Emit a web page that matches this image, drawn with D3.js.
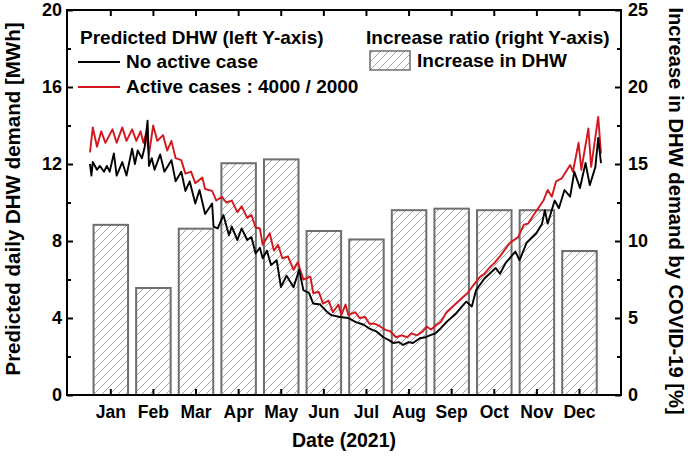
<!DOCTYPE html>
<html><head><meta charset="utf-8">
<script src="https://cdn.jsdelivr.net/npm/d3@7"></script>
<style>
html,body{margin:0;padding:0;background:#fff;}
svg text{font-family:"Liberation Sans",Arial,Helvetica,sans-serif;font-weight:bold;fill:#000;}
</style></head><body>
<svg id="chart" width="688" height="456"></svg>
<script>
// ---------- data ----------
const months = ["Jan","Feb","Mar","Apr","May","Jun","Jul","Aug","Sep","Oct","Nov","Dec"];
const increaseRatio = [11.05, 6.95, 10.8, 15.05, 15.3, 10.65, 10.1, 12.0, 12.1, 12.0, 12.0, 9.35];

const leftTicks = [0, 4, 8, 12, 16, 20];
const rightTicks = [0, 5, 10, 15, 20, 25];

// day of year (0..364) and predicted daily DHW [MWh]
const noActiveDay = [0,1,2,5,7,10,12,14,17,19,23,26,30,32,34,37,39,41,42,44,46,50,53,58,61,65,68,71,75,78,82,87,88,91,95,99,101,105,108,112,115,118,121,123,126,129,133,136,140,145,149,152,156,159,164,169,172,178,184,189,195,199,204,209,213,216,220,223,227,230,235,239,242,246,249,254,261,265,268,272,275,281,289,292,296,303,306,311,318,322,324,326,331,334,338,342,345,349,353,356,360,362,364];
const noActiveDHW = [12.0,11.4,12.1,11.7,11.9,11.6,11.9,11.6,12.55,11.4,12.1,11.4,12.8,12.0,12.7,12.3,12.9,14.25,11.9,12.3,11.7,12.5,11.6,12.2,11.1,11.6,10.6,11.1,9.95,10.65,9.4,9.95,8.75,8.65,9.35,8.3,8.75,8.05,8.65,8.05,8.2,7.35,7.65,7.1,7.5,6.75,7.0,5.6,6.2,5.6,6.5,5.45,5.3,4.75,4.7,4.3,4.15,4.05,4.0,3.8,3.65,3.45,3.3,3.0,2.85,2.7,2.75,2.6,2.75,2.7,2.95,3.0,3.1,3.2,3.4,3.8,4.25,4.6,4.85,4.6,5.45,6.05,6.6,6.3,6.85,7.45,7.0,7.9,8.4,8.9,9.6,8.9,10.1,9.7,10.65,10.3,11.6,10.75,12.05,10.9,11.85,13.35,12.05];

const activeDay = [0,2,5,8,11,16,19,23,26,30,33,36,38,40,42,45,48,52,55,58,61,65,68,72,75,80,82,87,90,94,97,101,105,108,112,115,118,121,123,128,131,134,137,141,145,148,152,157,159,163,166,170,173,177,179,182,184,189,192,196,199,203,207,210,214,218,222,226,229,233,237,240,243,247,250,254,260,266,269,272,278,281,285,288,292,299,305,309,312,316,323,326,329,332,336,342,344,348,350,355,357,362,364];
const activeDHW = [12.6,13.9,12.9,13.7,13.1,13.8,13.1,13.9,13.2,13.8,13.2,13.7,13.1,13.6,12.5,14.0,13.2,13.5,12.7,13.2,12.3,12.2,11.5,11.6,11.0,11.3,10.7,10.6,10.1,10.3,10.0,10.1,9.5,9.8,9.2,9.35,8.7,8.65,7.8,8.4,7.5,7.8,7.1,7.2,6.5,6.9,6.0,6.15,5.3,5.35,4.75,4.9,4.3,4.7,4.15,4.7,4.15,4.3,4.0,4.05,3.7,3.7,3.55,3.4,3.3,3.0,3.1,3.0,3.2,3.1,3.3,3.55,3.4,3.65,3.8,4.3,4.7,5.1,5.3,5.6,6.15,6.3,6.65,6.85,7.2,7.9,8.2,8.85,8.9,9.35,10.1,10.65,10.3,11.1,11.25,11.95,11.6,13.1,11.7,13.85,11.85,14.45,12.55];

// ---------- layout ----------
const svg = d3.select("#chart");
const L = 67, R = 621, T = 10, B = 395;

const xDay = d3.scaleLinear().domain([0, 364]).range([90, 601]);
const xBand = d3.scaleBand().domain(months).range([89.5, 600.8]).paddingInner(0.19).paddingOuter(0.095);
const yL = d3.scaleLinear().domain([0, 20]).range([B, T]);
const yR = d3.scaleLinear().domain([0, 25]).range([B, T]);

// hatch pattern
const defs = svg.append("defs");
const pat = defs.append("pattern").attr("id","hatch").attr("patternUnits","userSpaceOnUse")
  .attr("width",8).attr("height",8);
pat.append("rect").attr("width",8).attr("height",8).attr("fill","#fff");
pat.append("path").attr("d","M-2,2 L2,-2 M0,8 L8,0 M6,10 L10,6").attr("stroke","#9a9a9a").attr("stroke-width",0.9);

// bars
svg.append("g").selectAll("rect").data(increaseRatio).join("rect")
  .attr("x",(d,i)=>xBand(months[i]))
  .attr("y",d=>yR(d))
  .attr("width",xBand.bandwidth())
  .attr("height",d=>yR(0)-yR(d))
  .attr("fill","url(#hatch)")
  .attr("stroke","#6e6e6e").attr("stroke-width",2);

// lines
const lineGen = (days)=>d3.line().x((d,i)=>xDay(days[i])).y(d=>yL(d));
svg.append("path").datum(activeDHW).attr("d",lineGen(activeDay))
  .attr("fill","none").attr("stroke","#d3171e").attr("stroke-width",1.9).attr("stroke-linejoin","round");
svg.append("path").datum(noActiveDHW).attr("d",lineGen(noActiveDay))
  .attr("fill","none").attr("stroke","#000").attr("stroke-width",1.9).attr("stroke-linejoin","round");

// axes
function clean(g){ g.select(".domain").remove(); g.selectAll("line").attr("stroke","#000").attr("stroke-width",2); }

// left
svg.append("g").attr("transform",`translate(${L},0)`)
  .call(d3.axisLeft(yL).tickValues(leftTicks).tickSizeInner(-6).tickSizeOuter(0).tickPadding(5))
  .call(clean).call(g=>g.selectAll("text").style("font-size","18px"));
svg.append("g").attr("transform",`translate(${L},0)`)
  .call(d3.axisLeft(yL).tickValues(d3.range(2,20,4)).tickSizeInner(-4).tickSizeOuter(0).tickFormat(""))
  .call(clean);
// right
svg.append("g").attr("transform",`translate(${R},0)`)
  .call(d3.axisRight(yR).tickValues(rightTicks).tickSizeInner(-6).tickSizeOuter(0).tickPadding(7))
  .call(clean).call(g=>g.selectAll("text").style("font-size","18px"));
svg.append("g").attr("transform",`translate(${R},0)`)
  .call(d3.axisRight(yR).tickValues(d3.range(2.5,25,5)).tickSizeInner(-4).tickSizeOuter(0).tickFormat(""))
  .call(clean);
// bottom
svg.append("g").attr("transform",`translate(0,${B})`)
  .call(d3.axisBottom(xBand).tickSizeInner(-6).tickSizeOuter(0).tickPadding(11))
  .call(clean).call(g=>g.selectAll("text").style("font-size","17.5px"));
// top
svg.append("g").attr("transform",`translate(0,${T})`)
  .call(d3.axisTop(xBand).tickSizeInner(-6).tickSizeOuter(0).tickFormat(""))
  .call(clean);

// frame
svg.append("rect").attr("x",L).attr("y",T).attr("width",R-L).attr("height",B-T)
  .attr("fill","none").attr("stroke","#000").attr("stroke-width",2);

// axis titles
svg.append("text").attr("transform","translate(20,199) rotate(-90)").attr("text-anchor","middle")
  .style("font-size","20.5px").text("Predicted daily DHW demand [MWh]");
svg.append("text").attr("transform","translate(669,211) rotate(90)").attr("text-anchor","middle")
  .style("font-size","20.2px").text("Increase in DHW demand by COVID-19 [%]");
svg.append("text").attr("x",344).attr("y",447).attr("text-anchor","middle")
  .style("font-size","19.5px").text("Date (2021)");

// legend
const lg = svg.append("g").style("font-size","19px");
lg.append("text").attr("x",80).attr("y",44).text("Predicted DHW (left Y-axis)");
lg.append("line").attr("x1",78).attr("x2",120).attr("y1",62).attr("y2",62).attr("stroke","#000").attr("stroke-width",1.9);
lg.append("text").attr("x",126).attr("y",68).text("No active case");
lg.append("line").attr("x1",78).attr("x2",120).attr("y1",87).attr("y2",87).attr("stroke","#d3171e").attr("stroke-width",1.9);
lg.append("text").attr("x",126).attr("y",93).text("Active cases : 4000 / 2000");

lg.append("text").attr("x",366).attr("y",44).text("Increase ratio (right Y-axis)");
lg.append("rect").attr("x",370).attr("y",51).attr("width",40).attr("height",19)
  .attr("fill","url(#hatch)").attr("stroke","#6e6e6e").attr("stroke-width",1.5);
lg.append("text").attr("x",417).attr("y",67).text("Increase in DHW");
</script></body></html>
